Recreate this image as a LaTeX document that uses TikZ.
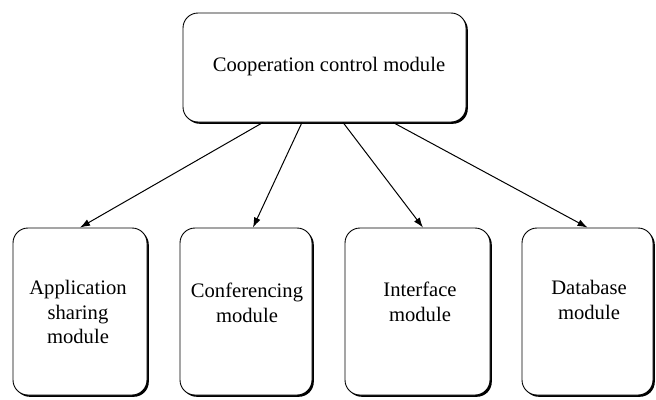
\documentclass[tikz,border=0pt]{standalone}
\usepackage{fontspec}
\setmainfont{Liberation Serif}
\usetikzlibrary{arrows.meta,shadows}
\begin{document}
\begin{tikzpicture}[x=1pt,y=-1pt,
  module/.style={draw=black, line width=0.9pt, rounded corners=15pt, fill=white,
    inner sep=0pt,
    drop shadow={shadow xshift=1.8pt, shadow yshift=-1.8pt, fill=black, opacity=1}},
  label text/.style={align=center, font=\fontsize{20.6}{24.5}\selectfont},
  link/.style={line width=1pt, -{Latex[length=10pt,width=7pt]}}]
  \useasboundingbox (0,0) rectangle (656,399);

  % top-level module
  \node[module, minimum width=283pt, minimum height=109pt] (coop) at (324.5,67.5) {};
  \node[label text] (coopt) at (329,67) {Cooperation control module};

  % sub-modules
  \node[module, minimum width=134pt, minimum height=167pt] (app)  at (80,311.5) {};
  \node[module, minimum width=132pt, minimum height=167pt] (conf) at (246,311.5) {};
  \node[module, minimum width=145pt, minimum height=167pt] (intf) at (417.5,311.5) {};
  \node[module, minimum width=131pt, minimum height=167pt] (db)   at (587.5,311.5) {};

  \node[label text] (appt)  at (78,312)  {Application\\sharing\\module};
  \node[label text] (conft) at (247,303) {Conferencing\\module};
  \node[label text] (intft) at (420,302) {Interface\\module};
  \node[label text] (dbt)   at (589,300) {Database\\module};

  % connectors
  \draw[link] ([xshift=-61.5pt]coop.south) -- (app.north);
  \draw[link] ([xshift=-22.5pt]coop.south) -- ([xshift=7pt]conf.north);
  \draw[link] ([xshift=18.5pt]coop.south)  -- ([xshift=5.5pt]intf.north);
  \draw[link] ([xshift=68.5pt]coop.south)  -- (db.north);
\end{tikzpicture}
\end{document}
